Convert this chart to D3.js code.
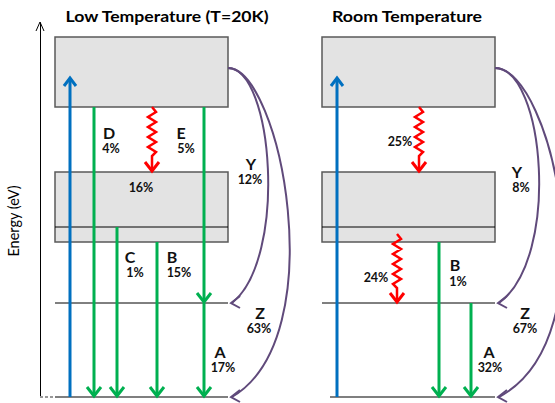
<!DOCTYPE html>
<html>
<head>
<meta charset="utf-8">
<script src="https://cdn.jsdelivr.net/npm/d3@7"></script>
<style>
  body { margin: 0; background: #fff; }
  text { font-family: Lato, "Open Sans", sans-serif; }
</style>
</head>
<body>
<div id="chart-area"></div>
<script>
// energy levels (arbitrary units, ground = 0)
var levelNames = ["ground", "Z", "bandLow", "bandInner", "bandMid", "bandTop", "bandUpper"];
var levelEnergy = [0, 94, 155, 170, 225, 290, 360];

var panelTitles = ["Low Temperature (T=20K)", "Room Temperature"];

// transitions: x is position across the box, from/to are energies
var lowTransitions = [
    {kind: "pump", x: 15, from: 0, to: 320},
    {kind: "rad", x: 39, from: 290, to: 0},
    {kind: "nonrad", x: 97, from: 290, to: 225},
    {kind: "rad", x: 149, from: 290, to: 94},
    {kind: "rad", x: 149, from: 94, to: 0},
    {kind: "rad", x: 62, from: 170, to: 0},
    {kind: "rad", x: 102, from: 155, to: 0}
];
var roomTransitions = [
    {kind: "pump", x: 15, from: 0, to: 320},
    {kind: "nonrad", x: 97, from: 290, to: 225},
    {kind: "nonrad", x: 75, from: 163, to: 94},
    {kind: "rad", x: 117, from: 155, to: 0},
    {kind: "rad", x: 149, from: 94, to: 0}
];

// relaxation arcs from the upper band to Z and ground
var relaxFrom = [329, 329];
var relaxTo = [94, 0];

// labels: text, x across box, energy of baseline
var lowLabels = [
    {t: "D", x: 54, e: 258, big: true}, {t: "4%", x: 56, e: 244},
    {t: "E", x: 126, e: 258, big: true}, {t: "5%", x: 131, e: 244},
    {t: "16%", x: 86, e: 205},
    {t: "Y", x: 196, e: 227, big: true}, {t: "12%", x: 195, e: 213},
    {t: "C", x: 75, e: 134, big: true}, {t: "1%", x: 80, e: 120},
    {t: "B", x: 117, e: 134, big: true}, {t: "15%", x: 124, e: 120},
    {t: "Z", x: 205, e: 78, big: true}, {t: "63%", x: 204, e: 64},
    {t: "A", x: 165, e: 39, big: true}, {t: "17%", x: 168, e: 25}
];
var roomLabels = [
    {t: "25%", x: 78, e: 251},
    {t: "Y", x: 195, e: 219, big: true}, {t: "8%", x: 199, e: 205},
    {t: "24%", x: 54, e: 115},
    {t: "B", x: 133, e: 126, big: true}, {t: "1%", x: 136, e: 111},
    {t: "Z", x: 203, e: 78, big: true}, {t: "67%", x: 203, e: 64},
    {t: "A", x: 167, e: 39, big: true}, {t: "32%", x: 168, e: 25}
];

var width = 555, height = 403;
var boxWidth = 173;
var panelLeft = [55, 322];
var titleCenter = [112, 85];
var titleWidth = [203, 150];

var y = d3.scaleLinear().domain([0, 375]).range([397, 22]);
var x = d3.scaleLinear().domain([0, boxWidth]).range([0, boxWidth]);

var colors = {pump: "#0070c0", rad: "#00b050", nonrad: "#ff0000", relax: "#604a7b"};

function lvl(name) { return levelEnergy[levelNames.indexOf(name)]; }

var svg = d3.select("#chart-area").append("svg")
    .attr("width", width)
    .attr("height", height);

// energy axis
svg.append("g")
    .attr("transform", "translate(40,0)")
    .call(d3.axisLeft(y).ticks(0).tickSizeOuter(0))
    .select(".domain").attr("stroke", "#000").attr("stroke-width", 1);
svg.append("path")
    .attr("d", "M36," + (y(375) + 9) + "L40," + y(375) + "L44," + (y(375) + 9))
    .attr("fill", "none").attr("stroke", "#000").attr("stroke-width", 1);
svg.append("line")
    .attr("x1", 40).attr("x2", 55).attr("y1", y(0)).attr("y2", y(0))
    .attr("stroke", "#999").attr("stroke-width", 2).attr("stroke-dasharray", "3,2");
svg.append("text")
    .attr("transform", "translate(19," + y(176) + ") rotate(-90)")
    .attr("text-anchor", "middle")
    .attr("font-size", 14.5)
    .text("Energy (eV)");

function chevronDown(g, cx, cy, color) {
    g.append("path")
        .attr("d", "M" + (cx - 7) + "," + (cy - 10) + "L" + cx + "," + (cy - 1) + "L" + (cx + 7) + "," + (cy - 10))
        .attr("fill", "none").attr("stroke", color).attr("stroke-width", 3)
        .attr("stroke-linejoin", "miter");
}

function drawPanel(i, transitions, labels, arcScale) {
    var g = svg.append("g").attr("transform", "translate(" + panelLeft[i] + ",0)");

    g.append("text")
        .attr("x", titleCenter[i])
        .attr("y", 22)
        .attr("text-anchor", "middle")
        .attr("font-size", 15.5)
        .attr("font-weight", "bold")
        .attr("textLength", titleWidth[i])
        .attr("lengthAdjust", "spacingAndGlyphs")
        .text(panelTitles[i]);

    // bands
    [[lvl("bandUpper"), lvl("bandTop")], [lvl("bandMid"), lvl("bandLow")]].forEach(function(b) {
        g.append("rect")
            .attr("x", x(0)).attr("y", y(b[0]))
            .attr("width", x(boxWidth) - x(0))
            .attr("height", y(b[1]) - y(b[0]))
            .attr("fill", "#e3e3e3").attr("stroke", "#595959").attr("stroke-width", 1.5);
    });
    g.append("line")
        .attr("x1", x(0)).attr("x2", x(boxWidth))
        .attr("y1", y(lvl("bandInner"))).attr("y2", y(lvl("bandInner")))
        .attr("stroke", "#000").attr("stroke-width", 1);
    g.append("line")
        .attr("x1", x(0)).attr("x2", x(boxWidth))
        .attr("y1", y(lvl("Z"))).attr("y2", y(lvl("Z")))
        .attr("stroke", "#000").attr("stroke-width", 1);
    g.append("line")
        .attr("x1", i === 0 ? x(0) : x(8)).attr("x2", x(boxWidth))
        .attr("y1", y(0)).attr("y2", y(0))
        .attr("stroke", "#7f7f7f").attr("stroke-width", 2);

    // transitions
    transitions.forEach(function(t) {
        var cx = x(t.x), y0 = y(t.from), y1 = y(t.to);
        if (t.kind === "pump") {
            g.append("line").attr("x1", cx).attr("x2", cx).attr("y1", y0).attr("y2", y1 + 1)
                .attr("stroke", colors.pump).attr("stroke-width", 3);
            g.append("path")
                .attr("d", "M" + (cx - 6) + "," + (y1 + 9) + "L" + cx + "," + (y1 + 1) + "L" + (cx + 6) + "," + (y1 + 9))
                .attr("fill", "none").attr("stroke", colors.pump).attr("stroke-width", 3);
        } else if (t.kind === "rad") {
            g.append("line").attr("x1", cx).attr("x2", cx).attr("y1", y0).attr("y2", y1 - 1)
                .attr("stroke", colors.rad).attr("stroke-width", 3);
            chevronDown(g, cx, y1, colors.rad);
        } else {
            var pts = [[cx, y0]];
            var yy = y0, side = 1;
            while (yy + 5 < y1 - 18) {
                yy += 5;
                pts.push([cx + side * 4, yy]);
                side = -side;
            }
            pts.push([cx, yy + 4]);
            pts.push([cx, y1 - 1]);
            g.append("path")
                .attr("d", d3.line()(pts))
                .attr("fill", "none").attr("stroke", colors.nonrad).attr("stroke-width", 2.5)
                .attr("stroke-linejoin", "miter");
            chevronDown(g, cx, y1, colors.nonrad);
        }
    });

    // relaxation arcs
    relaxFrom.forEach(function(e0, k) {
        var x0 = x(boxWidth), y0 = y(e0), y1 = y(relaxTo[k]);
        var d = k === 0
            ? "M" + x0 + "," + y0 + "C" + (x0 + 45 * arcScale) + "," + y0 + " " + (x0 + 60 * arcScale) + "," + (y1 - 45) + " " + (x0 + 4) + "," + y1
            : "M" + x0 + "," + y0 + "C" + (x0 + 52 * arcScale) + "," + y0 + " " + (x0 + 106 * arcScale) + "," + (y1 - 60) + " " + (x0 + 4) + "," + y1;
        g.append("path").attr("d", d)
            .attr("fill", "none").attr("stroke", colors.relax).attr("stroke-width", 2);
        g.append("path")
            .attr("d", "M" + (x0 + 12) + "," + (y1 - 7) + "L" + (x0 + 3) + "," + y1 + "L" + (x0 + 12) + "," + (y1 + 5))
            .attr("fill", "none").attr("stroke", colors.relax).attr("stroke-width", 2);
    });

    // labels
    g.selectAll("text.lab")
        .data(labels)
        .enter()
        .append("text")
            .attr("class", "lab")
            .attr("x", function(d) { return x(d.x); })
            .attr("y", function(d) { return y(d.e); })
            .attr("text-anchor", "middle")
            .attr("font-weight", "bold")
            .attr("font-size", function(d) { return d.big ? 16 : 12.5; })
            .attr("fill", "#111")
            .text(function(d) { return d.t; });
}

drawPanel(0, lowTransitions, lowLabels, 1);
drawPanel(1, roomTransitions, roomLabels, 1.1);
</script>
</body>
</html>
